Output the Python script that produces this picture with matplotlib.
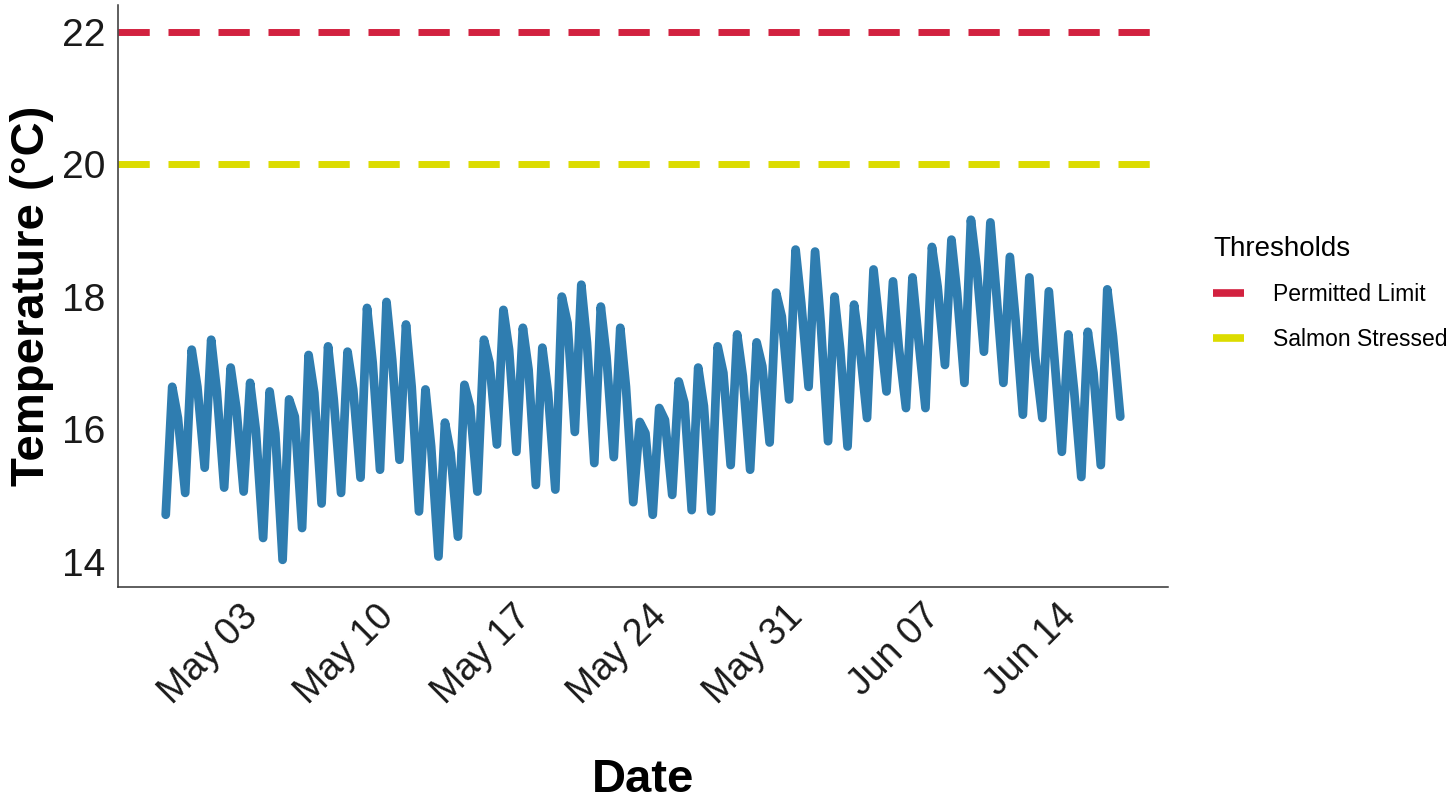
import numpy as np
import pandas as pd
import matplotlib
matplotlib.use("Agg")
import matplotlib.pyplot as plt
import matplotlib.transforms as mtransforms
import matplotlib.dates as mdates
from matplotlib.lines import Line2D

# daily readings, first day 2023-04-28
start_day = "2023-04-28"
# daily low (around noon), one more than the peaks (last value = end of record)
daily_low = [14.71, 15.04, 15.42, 15.12, 15.06, 14.36, 14.03, 14.51, 14.88, 15.04,
             15.27, 15.39, 15.54, 14.76, 14.08, 14.38, 15.06, 15.77, 15.66, 15.16,
             15.09, 15.96, 15.49, 15.58, 14.90, 14.71, 15.01, 14.78, 14.76, 15.46,
             15.39, 15.80, 16.45, 16.64, 15.82, 15.74, 16.17, 16.57, 16.32, 16.32,
             16.97, 16.70, 17.17, 16.70, 16.22, 16.17, 15.66, 15.28, 15.46, 16.19]
# daily high (evening)
daily_high = [16.64, 17.20, 17.35, 16.93, 16.70, 16.57, 16.45, 17.12, 17.25, 17.17,
              17.83, 17.92, 17.58, 16.60, 16.10, 16.67, 17.35, 17.80, 17.53, 17.23,
              18.00, 18.18, 17.85, 17.53, 16.11, 16.32, 16.72, 16.93, 17.25, 17.43,
              17.31, 18.06, 18.71, 18.68, 18.00, 17.88, 18.41, 18.23, 18.29, 18.75,
              18.86, 19.16, 19.12, 18.60, 18.29, 18.08, 17.43, 17.47, 18.11]
# night-time shoulder after each high
night_level = [16.17, 16.64, 16.57, 16.32, 15.99, 15.94, 16.19, 16.55, 16.45, 16.60,
               17.00, 17.05, 16.64, 15.74, 15.64, 16.34, 17.00, 17.20, 16.90, 16.55,
               17.60, 17.30, 17.10, 16.64, 15.94, 16.14, 16.40, 16.35, 16.85, 16.80,
               16.95, 17.70, 17.90, 17.60, 17.20, 17.25, 17.60, 17.25, 17.40, 18.15,
               18.05, 18.45, 18.10, 17.65, 17.10, 17.05, 16.60, 16.85, 17.40]

tick_dates = ["2023-05-03", "2023-05-10", "2023-05-17", "2023-05-24",
              "2023-05-31", "2023-06-07", "2023-06-14"]
thresholds = {"Permitted Limit": 22, "Salmon Stressed": 20}
threshold_colors = {"Permitted Limit": "#D2213F", "Salmon Stressed": "#DCDC00"}
line_color = "#2F7DB0"


def build_series():
    times, temps = [], []
    day0 = pd.Timestamp(start_day)
    for i in range(len(daily_high)):
        day = day0 + pd.Timedelta(days=i)
        times += [day + pd.Timedelta(hours=12), day + pd.Timedelta(hours=20),
                  day + pd.Timedelta(hours=27)]
        temps += [daily_low[i], daily_high[i], night_level[i]]
    last = day0 + pd.Timedelta(days=len(daily_high))
    times.append(last + pd.Timedelta(hours=12))
    temps.append(daily_low[-1])
    return pd.to_datetime(times), np.array(temps)


def main():
    plt.rcParams['font.family'] = ['Liberation Sans', 'DejaVu Sans']
    fig = plt.figure(figsize=(14.5, 8.06), dpi=100)
    ax = fig.add_axes([118 / 1450, 1 - 587 / 806, 1050 / 1450, 582 / 806])

    t, temp = build_series()
    ax.plot(t, temp, color=line_color, linewidth=6.3,
            solid_joinstyle='round', solid_capstyle='round', zorder=3)
    ax.margins(x=0.05)
    ax.set_ylim(13.62, 22.4)

    for name, val in thresholds.items():
        ax.axhline(val, color=threshold_colors[name], linewidth=5,
                   dashes=(4.5, 2.7), zorder=2)

    ax.set_yticks([14, 16, 18, 20, 22])
    ax.set_xticks(pd.to_datetime(tick_dates))
    ax.xaxis.set_major_formatter(mdates.DateFormatter('%b %d'))
    ax.tick_params(axis='both', length=0, colors='#1a1a1a')
    ax.tick_params(axis='y', labelsize=28, pad=9)
    ax.tick_params(axis='x', labelsize=27, pad=8)
    shift = mtransforms.ScaledTranslation(-14 / 100, 0, fig.dpi_scale_trans)
    for lab in ax.get_xticklabels():
        lab.set_rotation(45)
        lab.set_ha('right')
        lab.set_rotation_mode('anchor')
        lab.set_transform(lab.get_transform() + shift)

    for s in ['top', 'right']:
        ax.spines[s].set_visible(False)
    for s in ['left', 'bottom']:
        ax.spines[s].set_color('#333333')
        ax.spines[s].set_linewidth(1.1)

    font = {'weight': 'bold', 'size': 34}
    ax.set_xlabel("Date", fontdict=font, va='center')
    ax.xaxis.set_label_coords(0.5, -0.332)
    ax.set_ylabel("Temperature (\u00b0C)", fontdict=font, va='center')
    ax.yaxis.set_label_coords(-0.082, 0.5)

    handles = [Line2D([0], [0], color=threshold_colors[n], linewidth=5.5,
                      solid_capstyle='butt') for n in thresholds]
    leg = fig.legend(handles, list(thresholds.keys()), title="Thresholds",
                     loc='upper left', bbox_to_anchor=(1213 / 1450, 1 - 236 / 806),
                     frameon=False, fontsize=16.5, title_fontsize=20,
                     handlelength=1.35, handletextpad=1.25, labelspacing=0.93,
                     borderpad=0, borderaxespad=0)
    leg._legend_box.align = "left"

    fig.savefig("out.png", dpi=100, facecolor='white')


if __name__ == "__main__":
    main()
